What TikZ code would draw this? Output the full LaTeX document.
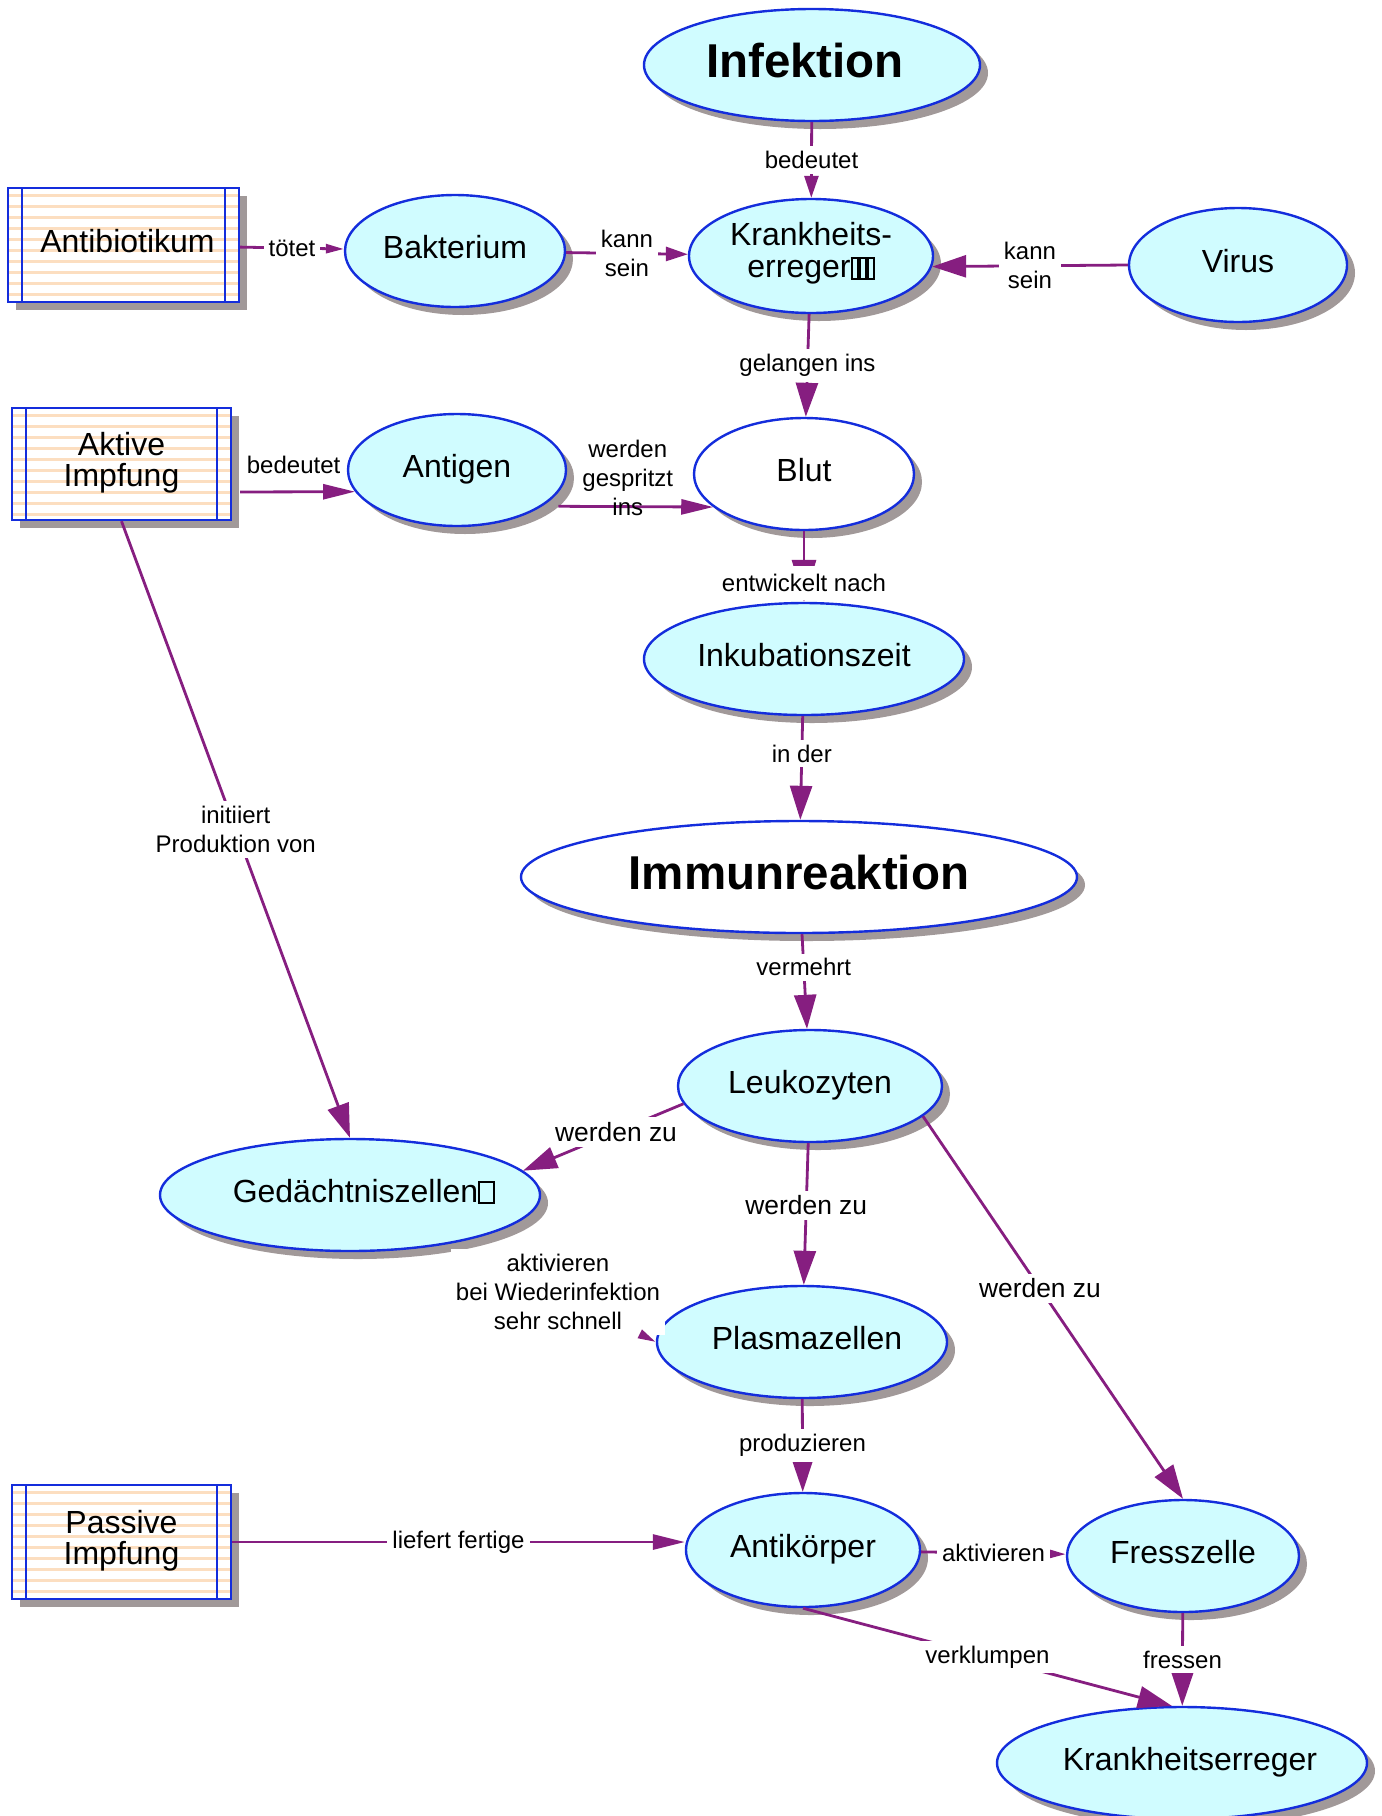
\documentclass[tikz,border=0pt]{standalone}
\usepackage{fontspec}
\setmainfont{Liberation Sans}
\usepackage{tikz}
\usetikzlibrary{arrows.meta,shapes.geometric,shadows}

\definecolor{conceptfill}{RGB}{208,252,255}
\definecolor{conceptline}{RGB}{20,45,220}
\definecolor{linkcolor}{RGB}{134,30,128}
\definecolor{shadowgrey}{RGB}{161,153,153}
\definecolor{stripecolor}{RGB}{252,222,192}

\newcommand{\tofu}[1]{{\fboxsep=0pt\fboxrule=1pt\fbox{\rule{0pt}{9.5pt}\hspace{#1}}}}

\begin{document}
\begin{tikzpicture}[x=0.5pt, y=-0.5pt,
        esize/.style 2 args = {minimum width=#1, minimum height=#2},
        grey shadow/.style = {drop shadow={shadow xshift=4pt, shadow yshift=-4pt, opacity=1, fill=shadowgrey}},
        concept/.style = {ellipse, draw=conceptline, line width=1.2pt, fill=conceptfill, inner sep=0pt, align=center, font=\fontsize{16}{16}\selectfont, text height=11.7pt, text depth=4.7pt, grey shadow},
        keyconcept/.style = {concept, font=\fontsize{23.75}{26}\selectfont\bfseries, text height=17.3pt, text depth=4.9pt},
        resource/.style = {rectangle, draw=conceptline, line width=1.2pt, fill=white, inner sep=0pt, align=center, font=\fontsize{16}{15.6}\selectfont, grey shadow,
            path picture={
                \foreach \k in {0,...,9}
                    \draw [stripecolor, line width=1.4pt] ([yshift=-3.85pt-\k*5.5pt]path picture bounding box.north west) -- ([yshift=-3.85pt-\k*5.5pt]path picture bounding box.north east);
                \draw [conceptline, line width=1.2pt] ([xshift=7pt]path picture bounding box.north west) -- ([xshift=7pt]path picture bounding box.south west)
                    ([xshift=-7pt]path picture bounding box.north east) -- ([xshift=-7pt]path picture bounding box.south east);
            }},
        linkphrase/.style = {fill=white, inner sep=2.5pt, align=center, font=\fontsize{12}{14.5}\selectfont},
        biglink/.style = {linkphrase, font=\fontsize{13.2}{15}\selectfont},
        link/.style = {draw=linkcolor, line width=1.4pt},
        arrL/.style = {link, -{Triangle[length=17pt, width=11pt]}},
        arrN/.style = {link, -{Triangle[length=16pt, width=7.5pt]}},
        arrM/.style = {link, -{Triangle[length=11pt, width=7pt]}},
        arrS/.style = {link, -{Triangle[length=9pt, width=4.5pt]}}]
        \useasboundingbox (0,0) rectangle (1382,1816);

        % concepts
        \node (infektion) at (812,65) [keyconcept, esize={168pt}{56pt}] {\hspace*{-3.5pt}Infektion\hspace*{3.5pt}};
        \node (erreger1) at (811,256) [concept, text height=, text depth=6pt, esize={122pt}{57pt}] {Krankheits-\\erreger\tofu{2pt}\tofu{2pt}\tofu{2pt}};
        \node (bakterium) at (455,251) [concept, esize={110pt}{56pt}] {Bakterium};
        \node (virus) at (1238,265) [concept, esize={109pt}{57pt}] {Virus};
        \node (antigen) at (457,470) [concept, esize={109pt}{56pt}] {Antigen};
        \node (blut) at (804,474) [concept, fill=white, esize={110pt}{56pt}] {Blut};
        \node (inkubation) at (804,659) [concept, esize={160pt}{56pt}] {Inkubationszeit};
        \node (immun) at (799,877) [keyconcept, fill=white, esize={278pt}{56pt}] {Immunreaktion};
        \node (leuko) at (810,1086) [concept, esize={132pt}{56pt}] {Leukozyten};
        \node (gedaechtnis) at (350,1195) [concept, esize={190pt}{56pt}] {\hspace*{7pt}Gedächtniszellen\tofu{6.5pt}\hspace*{-7pt}};
        \node (plasma) at (802,1342) [concept, esize={145pt}{56pt}] {\hspace*{2.5pt}Plasmazellen\hspace*{-2.5pt}};
        \node (antikoerper) at (803,1550) [concept, esize={117pt}{57pt}] {Antikörper};
        \node (fresszelle) at (1183,1556) [concept, esize={116pt}{56pt}] {Fresszelle};
        \node (erreger2) at (1182,1763) [concept, esize={185pt}{56pt}] {\hspace*{4pt}Krankheitserreger\hspace*{-4pt}};

        % resources
        \node (antibiotikum) at (123.5,245) [resource, text height=11.7pt, text depth=4.7pt, esize={115.5pt}{57pt}] {\hspace*{2pt}Antibiotikum\hspace*{-2pt}};
        \node (aktiv) at (121.5,464) [resource, text depth=5pt, esize={109.5pt}{56pt}] {Aktive\\Impfung};
        \node (passiv) at (121.5,1542) [resource, text depth=5pt, esize={109.5pt}{57pt}] {Passive\\Impfung};

        % links
        \path [arrM] (infektion) -- node [linkphrase] (lBedeutet) {bedeutet} (erreger1);
        \path [arrS] (antibiotikum) -- node [linkphrase] (lToetet) {tötet} (bakterium);
        \path [arrM] (bakterium) -- node [linkphrase] (lKannSein) {kann\\sein} (erreger1);
        \path [arrL] (virus.west) -- node [linkphrase] (lKannSeinVirus) {kann\\sein} (erreger1.355);
        \path [arrL] (erreger1) -- node [linkphrase] (lGelangen) {gelangen ins} (blut);
        \path [arrN, shorten <=4pt] ([yshift=-14pt]aktiv.east) -- node [linkphrase, fill=none, yshift=13.5pt] (lBedeutetImpfung) {bedeutet} (antigen.192);
        \path [arrN, shorten <=8pt] (antigen.337) -- node [linkphrase, fill=none, yshift=14.5pt] (lGespritzt) {werden\\gespritzt\\ins} (blut.200);
        \path [link, -{Triangle[length=21pt, width=12pt]}] (blut) -- node [linkphrase, pos=0.73, minimum height=17pt] (lEntwickelt) {entwickelt nach} (inkubation);
        \path [arrL] (inkubation) -- node [linkphrase, pos=0.36] (lInDer) {in der} (immun);
        \path [arrL] (immun) -- node [linkphrase, pos=0.35] (lVermehrt) {vermehrt} (leuko);
        \path [arrL] (leuko.188) -- node [biglink, pos=0.42] (lWerdenGedaechtnis) {werden zu} (gedaechtnis.8);
        \path [arrL] (leuko) -- node [biglink, pos=0.44] (lWerdenPlasma) {werden zu} (plasma);
        \path [arrL] (leuko.345) -- node [biglink, pos=0.45] (lWerdenFress) {werden zu} (fresszelle.north);
        \path [arrL] (aktiv.south) -- node [linkphrase] (lInitiiert) {initiiert\\Produktion von} (gedaechtnis.north);
        \node (lWiederinfektion) at (558,1292) [linkphrase] {aktivieren\\bei Wiederinfektion\\sehr schnell};
        \path [arrS] (lWiederinfektion) -- (plasma.west);
        \path [arrL] (plasma) -- node [linkphrase] (lProduzieren) {produzieren} (antikoerper);
        \path [arrN] (passiv.east) -- node [linkphrase] (lLiefert) {liefert fertige} (antikoerper.west |- passiv.east);
        \path [arrS] (antikoerper) -- node [linkphrase] (lAktivieren) {aktivieren} (fresszelle);
        \path [arrL] (antikoerper.south) -- node [linkphrase] (lVerklumpen) {verklumpen} (erreger2.100);
        \path [arrL] (fresszelle) -- node [linkphrase] (lFressen) {fressen} (erreger2);
    \end{tikzpicture}
\end{document}
